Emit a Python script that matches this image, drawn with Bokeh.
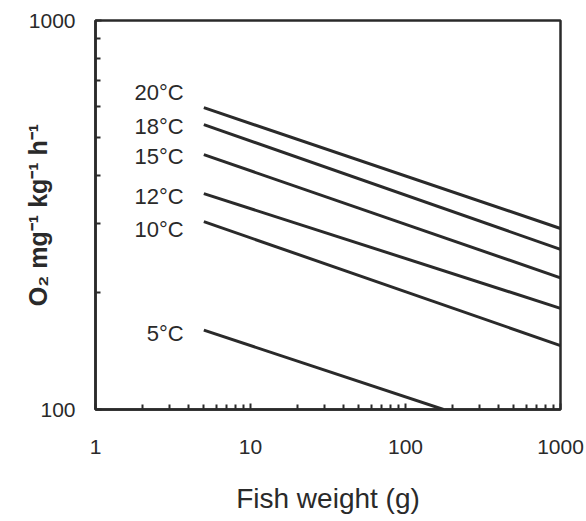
from bokeh.plotting import figure
from bokeh.models import Range1d, FixedTicker, NumeralTickFormatter, ColumnDataSource
from bokeh.core.properties import value
from bokeh.embed import file_html
from bokeh.resources import INLINE

# ---- data ----
temps = ["20°C", "18°C", "15°C", "12°C", "10°C", "5°C"]
x_start = [5, 5, 5, 5, 5, 5]
x_end = [1000, 1000, 1000, 1000, 1000, 176]
y_start = [597, 540, 452, 359, 304, 160]
y_end = [292, 258, 218, 182, 146, 100]
label_x = [3.7, 3.7, 3.7, 3.7, 3.7, 3.7]
label_y = [653, 535, 448, 353, 290, 157]

x_major = [1, 10, 100, 1000]
x_minor = [2, 3, 4, 5, 6, 7, 8, 9, 20, 30, 40, 50, 60, 70, 80, 90,
           200, 300, 400, 500, 600, 700, 800, 900]
y_major = [100, 1000]
y_minor = [200, 300, 400, 500, 600, 700, 800, 900]
x_tick_labels = ["1", "10", "100", "1000"]
y_tick_labels = ["100", "1000"]

FONT = "Liberation Sans"
INK = "#2a2a2a"

p = figure(width=586, height=521, x_axis_type="log", y_axis_type="log",
           x_range=Range1d(1, 1000), y_range=Range1d(100, 1000),
           output_backend="svg", toolbar_location=None,
           min_border_left=95, min_border_right=26, min_border_top=20,
           min_border_bottom=112)
p.background_fill_color = "white"
p.border_fill_color = "white"
p.xgrid.visible = False
p.ygrid.visible = False
p.outline_line_color = INK
p.outline_line_width = 2.5

for s in range(len(temps)):
    src = ColumnDataSource(dict(x=[x_start[s], x_end[s]], y=[y_start[s], y_end[s]]))
    p.line("x", "y", source=src, line_color=INK, line_width=3)

lab = ColumnDataSource(dict(x=label_x, y=label_y, t=temps))
p.text("x", "y", text="t", source=lab, text_align="right", text_baseline="middle",
       text_font=value(FONT), text_font_size="22px", text_color=INK)

p.xaxis.ticker = FixedTicker(ticks=x_major, minor_ticks=x_minor)
p.yaxis.ticker = FixedTicker(ticks=y_major, minor_ticks=y_minor)
p.xaxis.formatter = NumeralTickFormatter(format="0")
p.yaxis.formatter = NumeralTickFormatter(format="0")
p.xaxis.major_label_overrides = {v: t for v, t in zip(x_major, x_tick_labels)}
p.yaxis.major_label_overrides = {v: t for v, t in zip(y_major, y_tick_labels)}

for ax in (p.xaxis[0], p.yaxis[0]):
    ax.axis_line_color = INK
    ax.axis_line_width = 2.5
    ax.major_tick_line_color = INK
    ax.minor_tick_line_color = INK
    ax.major_tick_line_width = 2
    ax.minor_tick_line_width = 2
    ax.major_tick_in = 6
    ax.major_tick_out = 0
    ax.minor_tick_in = 5
    ax.minor_tick_out = 0
    ax.major_label_text_font = FONT
    ax.major_label_text_font_size = "21px"
    ax.major_label_text_color = INK
    ax.axis_label_text_font = FONT
    ax.axis_label_text_color = INK
    ax.axis_label_text_font_style = "normal"

p.xaxis.major_label_standoff = 30
p.yaxis.major_label_standoff = 20
p.yaxis.major_label_orientation = "horizontal"

p.xaxis.axis_label = "Fish weight (g)"
p.xaxis.axis_label_text_font_size = "28px"
p.xaxis.axis_label_standoff = 26

p.yaxis.axis_label = "O₂ mg⁻¹ kg⁻¹ h⁻¹"
p.yaxis.axis_label_text_font_size = "25px"
p.yaxis.axis_label_text_font_style = "bold"
p.yaxis.axis_label_standoff = -26

open("out.html", "w").write(file_html(p, INLINE))
